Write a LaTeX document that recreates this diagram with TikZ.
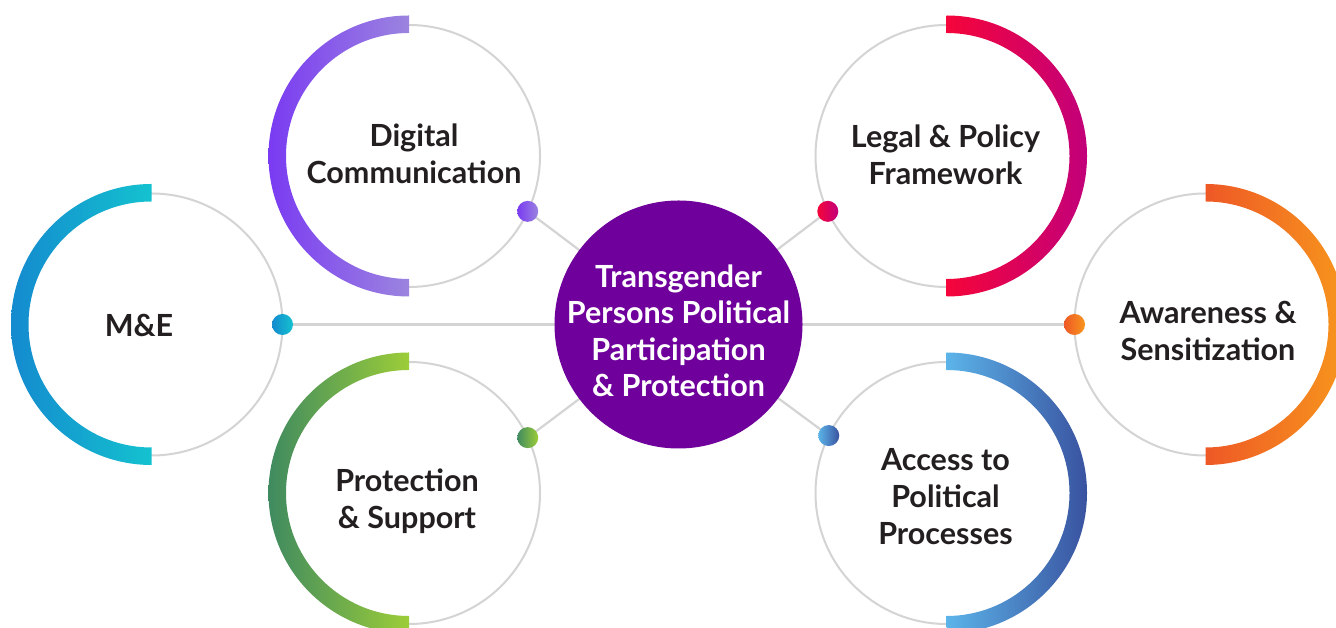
\documentclass[tikz,border=0pt]{standalone}
\usepackage{fontspec}
\setmainfont{Lato}
\usetikzlibrary{backgrounds}
\definecolor{ringgray}{HTML}{D4D4D4}
\definecolor{txt}{HTML}{231F20}
\definecolor{ctrpurple}{HTML}{6F009B}
\definecolor{dcA}{HTML}{7A3BF2}\definecolor{dcB}{HTML}{9B84DF}
\definecolor{meA}{HTML}{148ACF}\definecolor{meB}{HTML}{14C2CF}
\definecolor{psA}{HTML}{3F8A60}\definecolor{psB}{HTML}{9CCD38}
\definecolor{lpA}{HTML}{F5053A}\definecolor{lpB}{HTML}{C2007A}
\definecolor{awA}{HTML}{EE5826}\definecolor{awB}{HTML}{F7961D}
\definecolor{acA}{HTML}{5CB4E9}\definecolor{acB}{HTML}{39529F}
\newcommand{\leftband}[4]{\shade[left color=#3,right color=#4] (#1,#2+140.5) arc[start angle=90,end angle=270,radius=140.5] -- (#1,#2-123) arc[start angle=270,end angle=90,radius=123] -- cycle;}
\newcommand{\rightband}[4]{\shade[left color=#3,right color=#4] (#1,#2+140.5) arc[start angle=90,end angle=-90,radius=140.5] -- (#1,#2-123) arc[start angle=-90,end angle=90,radius=123] -- cycle;}
\begin{document}
\begin{tikzpicture}[x=1pt,y=1pt,
  ring/.style={circle,draw=ringgray,line width=2pt,minimum size=262pt,inner sep=0pt,outer sep=0pt},
  lbl/.style={align=center,text=txt,font=\bfseries\fontsize{30.5}{37}\selectfont,inner sep=0pt},
  link/.style={draw=ringgray,line width=2.2pt},
  dotn/.style={circle,minimum size=21pt,inner sep=0pt,outer sep=0pt},
  hub/.style={circle,fill=ctrpurple,minimum size=248pt,inner sep=0pt,outer sep=0pt},
  hubtext/.style={align=center,text=white,inner sep=0pt,font=\bfseries\fontsize{30.5}{36.5}\selectfont}
]
\useasboundingbox (0,0) rectangle (1336,628);
\clip (0,0) rectangle (1336,628);
% rings
\node[ring] (dc) at (409,472) {};
\node[ring] (lp) at (946.5,472) {};
\node[ring] (me) at (151.5,303.5) {};
\node[ring] (aw) at (1205.5,303.5) {};
\node[ring] (ps) at (409,135) {};
\node[ring] (ac) at (946.5,135) {};
% coloured bands
\leftband{409}{472}{dcA}{dcB}
\rightband{946.5}{472}{lpA}{lpB}
\leftband{151.5}{303.5}{meA}{meB}
\rightband{1205.5}{303.5}{awA}{awB}
\leftband{409}{135}{psA}{psB}
\rightband{946.5}{135}{acA}{acB}
% hub
\node[hub] (hub) at (678.5,303.5) {};
\node[hubtext] (hubt) at (678.5,297) {Transgender\\Persons Political\\Participation\\\&~Protection};
% dots
\node[dotn,left color=dcA,right color=dcB] (dcd) at (dc.-25.6) {};
\node[dotn,left color=lpA,right color=lpB] (lpd) at (lp.205.6) {};
\node[dotn,left color=meA,right color=meB] (med) at (me.0) {};
\node[dotn,left color=awA,right color=awB] (awd) at (aw.180) {};
\node[dotn,left color=psA,right color=psB] (psd) at (ps.25.6) {};
\node[dotn,left color=acA,right color=acB] (acd) at (ac.154.4) {};
% links
\begin{scope}[on background layer]
\fill[white] (0,0) rectangle (1336,628);
\draw[link] (med.center) -- (awd.center);
\draw[link] (dcd.center) -- (hub.center);
\draw[link] (lpd.center) -- (hub.center);
\draw[link] (psd.center) -- (hub.center);
\draw[link] (acd.center) -- (hub.center);
\end{scope}
% labels
\node[lbl] (dct) at (414,474.5) {Digital\\Communication};
\node[lbl] (lpt) at (945.5,473) {Legal \& Policy\\Framework};
\node[lbl] (met) at (139,303) {M\&E};
\node[lbl] (awt) at (1208,297.5) {Awareness \&\\Sensitization};
\node[lbl] (pst) at (407,126.5) {Protection\\\& Support};
\node[lbl] (act) at (945.5,131) {Access to\\Political\\Processes};
\end{tikzpicture}
\end{document}
